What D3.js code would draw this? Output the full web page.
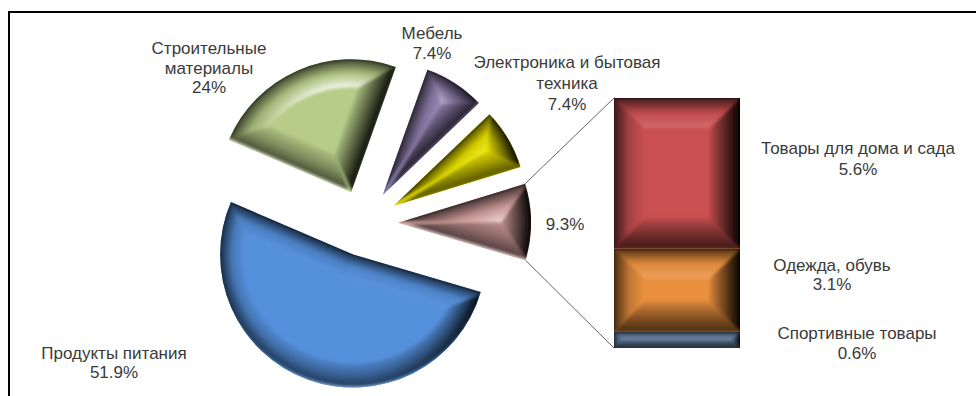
<!DOCTYPE html>
<html>
<head>
<meta charset="utf-8">
<title>Структура товарооборота</title>
<script src="https://cdn.jsdelivr.net/npm/d3@7"></script>
<style>
html,body{margin:0;padding:0;background:#fff;}
svg{display:block;}
text{font-family:"Liberation Sans",Arial,sans-serif;font-size:17px;fill:#3a3a3a;text-anchor:middle;}
</style>
</head>
<body>
<svg id="chart" width="976" height="396"></svg>
<script>
// Main pie
const pieNames = ["Продукты питания", "Строительные\nматериалы", "Мебель", "Электроника и бытовая\nтехника", ""];
const pieValues = [51.9, 24, 7.4, 7.4, 9.3];
const pieColors = ["#5590dc", "#b7cc88", "#9484b4", "#f0e800", "#cf9c9a"];
const pieGloss = [1.04, 1.85, 1.55, 1.25, 1.65];
const pieRim = [1.3, 1.85, 1.2, 0.6, 1.7];
const pieBevel = [24, 28, 28, 28, 30];

// Breakdown of the last slice
const stackNames = ["Товары для дома и сада", "Одежда,  обувь", "Спортивные товары"];
const stackValues = [5.6, 3.1, 0.6];
const stackColors = ["#c94f50", "#e98f3e", "#5c7494"];

// Label layout: centre x and first baseline
const pieLabelAnchors = [[114, 359], [209, 54], [432, 39], [567, 68], [565, 230]];
const pieLineGaps = [19, 19.5, 20, 21, 0];
const stackLabelAnchors = [[858, 154], [832, 271], [857, 339]];
const stackLineGaps = [21, 19, 20];

const cx = 364.5, cy = 223, R = 133, explode = 33.5;
const firstAngle = 106.4 * Math.PI / 180;
const stackX = [614, 740], stackY = [98, 348];

const svg = d3.select("#chart");
const defs = svg.append("defs");

const blur = defs.append("filter").attr("id", "soft")
  .attr("x", "-5%").attr("y", "-5%").attr("width", "110%").attr("height", "110%");
blur.append("feGaussianBlur").attr("stdDeviation", 1.6);

// Shading along a bevel, from rim (0) to the flat face (1), per facing direction
const stopAt = [0, 0.07, 0.5, 1];
function bevelStops(base, nx, ny, finish) {
  const profiles = {
    top:    [0.10, 0.42, 0.95, finish.gloss],
    bottom: [finish.rim, finish.under, finish.under + 0.25, 0.92],
    left:   [0.22, 0.38, 0.82, 1.0],
    right:  [0.03, 0.08, 0.46, 0.9]
  };
  const wT = Math.max(0, -ny) ** 2, wB = Math.max(0, ny) ** 2,
        wL = Math.max(0, -nx) ** 2, wR = Math.max(0, nx) ** 2;
  return stopAt.map((t, i) => ({
    t,
    color: tint(base, wT * profiles.top[i] + wB * profiles.bottom[i] +
                      wL * profiles.left[i] + wR * profiles.right[i])
  }));
}
function tint(base, m) {
  return m <= 1 ? d3.interpolateRgb("#000", base)(m)
                : d3.interpolateRgb(base, "#fff")(Math.min(1, m - 1));
}

let uid = 0;
function linearPaint(base, nx, ny, ex, ey, width, finish) {
  const id = "g" + (uid++);
  const g = defs.append("linearGradient").attr("id", id)
    .attr("gradientUnits", "userSpaceOnUse")
    .attr("x1", ex).attr("y1", ey)
    .attr("x2", ex - nx * width).attr("y2", ey - ny * width);
  bevelStops(base, nx, ny, finish).forEach(s =>
    g.append("stop").attr("offset", s.t).attr("stop-color", s.color));
  return "url(#" + id + ")";
}
function radialPaint(base, nx, ny, ax, ay, radius, width, finish) {
  const id = "g" + (uid++);
  const g = defs.append("radialGradient").attr("id", id)
    .attr("gradientUnits", "userSpaceOnUse")
    .attr("cx", ax).attr("cy", ay).attr("r", radius);
  bevelStops(base, nx, ny, finish).reverse().forEach(s =>
    g.append("stop").attr("offset", 1 - s.t * width / radius).attr("stop-color", s.color));
  return "url(#" + id + ")";
}
const polyline = d3.line();
const polar = (ax, ay, r, a) => [ax + r * Math.sin(a), ay - r * Math.cos(a)];

// Pie slices
const pie = d3.pie().sort(null).value(d => d)
  .startAngle(firstAngle).endAngle(firstAngle + 2 * Math.PI);
const arc = d3.arc().innerRadius(0).outerRadius(R);
const slices = pie(pieValues);

slices.forEach((s, i) => {
  const base = pieColors[i];
  const finish = { gloss: pieGloss[i], rim: pieRim[i], under: 0.42 };
  const mid = (s.startAngle + s.endAngle) / 2;
  const [ax, ay] = polar(cx, cy, explode, mid);
  const half = (s.endAngle - s.startAngle) / 2;
  const sinHalf = Math.sin(half);
  const w = Math.min(pieBevel[i], R * sinHalf / (1 + sinHalf));
  const delta = Math.asin(w / (R - w));
  const inner = polar(ax, ay, w / sinHalf, mid);

  const g = svg.append("g").attr("class", "slice");
  const clipId = "clip" + i;
  defs.append("clipPath").attr("id", clipId).append("path")
    .attr("transform", `translate(${ax},${ay})`).attr("d", arc(s));

  g.append("path").attr("transform", `translate(${ax},${ay})`)
    .attr("d", arc(s)).attr("fill", tint(base, 1));

  const bands = g.append("g").attr("clip-path", `url(#${clipId})`)
    .append("g").attr("filter", "url(#soft)");

  // Arc bevel, built from short pieces so the shading follows the normal
  const steps = Math.ceil((s.endAngle - s.startAngle) / (3 * Math.PI / 180));
  const angleAt = k => s.startAngle + (s.endAngle - s.startAngle) * k / steps;
  const innerAt = k => s.startAngle + delta +
    (s.endAngle - s.startAngle - 2 * delta) * k / steps;
  for (let k = 0; k < steps; k++) {
    const am = (angleAt(k) + angleAt(k + 1)) / 2;
    const pad = k < steps - 1 ? 0.008 : 0;
    bands.append("path")
      .attr("d", polyline([
        polar(ax, ay, R + 2, angleAt(k)),
        polar(ax, ay, R + 2, angleAt(k + 1) + pad),
        polar(ax, ay, R - w, innerAt(k + 1) + pad),
        polar(ax, ay, R - w, innerAt(k))
      ]) + "Z")
      .attr("fill", radialPaint(base, Math.sin(am), -Math.cos(am), ax, ay, R, w, finish));
  }

  // Bevels along the two straight edges
  [[s.startAngle, -1, delta], [s.endAngle, 1, -delta]].forEach(([edge, sign, d]) => {
    const nx = sign * Math.cos(edge), ny = sign * Math.sin(edge);
    const rim = polar(ax, ay, R + 2, edge);
    bands.append("path")
      .attr("d", polyline([
        [ax + nx * 2, ay + ny * 2], [rim[0] + nx * 2, rim[1] + ny * 2],
        rim, polar(ax, ay, R - w, edge + d), inner
      ]) + "Z")
      .attr("fill", linearPaint(base, nx, ny, ax, ay, w, finish));
  });
});

// Stacked column with the breakdown
const yStack = d3.scaleLinear()
  .domain([0, d3.sum(stackValues)]).range(stackY);
const cumulative = d3.cumsum([0].concat(stackValues));

// Lines joining the last slice to the column
const last = slices[slices.length - 1];
const lastMid = (last.startAngle + last.endAngle) / 2;
const [lx, ly] = polar(cx, cy, explode, lastMid);
svg.append("g").selectAll("line")
  .data([[last.startAngle, stackY[0]], [last.endAngle, stackY[1]]])
  .join("line")
  .attr("x1", d => polar(lx, ly, R, d[0])[0])
  .attr("y1", d => polar(lx, ly, R, d[0])[1])
  .attr("x2", stackX[0]).attr("y2", d => d[1])
  .attr("stroke", "#666").attr("stroke-width", 1);

stackValues.forEach((v, i) => {
  const base = stackColors[i];
  const finish = { gloss: 1.16, rim: 0.5, under: 0.34 };
  const y0 = yStack(cumulative[i]), y1 = yStack(cumulative[i + 1]);
  const [x0, x1] = stackX;
  const w = Math.min(30, (y1 - y0) / 2);
  const g = svg.append("g").attr("class", "segment");
  const clipId = "seg" + i;
  defs.append("clipPath").attr("id", clipId).append("rect")
    .attr("x", x0).attr("y", y0).attr("width", x1 - x0).attr("height", y1 - y0);
  g.append("rect").attr("x", x0).attr("y", y0)
    .attr("width", x1 - x0).attr("height", y1 - y0)
    .attr("fill", tint(base, 1));
  const bands = g.append("g").attr("clip-path", `url(#${clipId})`)
    .append("g").attr("filter", "url(#soft)");
  const o = 3;
  const sides = [
    { n: [0, -1], e: [x0, y0], pts: [[x0 - o, y0 - o], [x1 + o, y0 - o], [x1 - w, y0 + w], [x0 + w, y0 + w]] },
    { n: [0, 1],  e: [x0, y1], pts: [[x0 - o, y1 + o], [x1 + o, y1 + o], [x1 - w, y1 - w], [x0 + w, y1 - w]] },
    { n: [-1, 0], e: [x0, y0], pts: [[x0 - o, y0 - o], [x0 + w, y0 + w], [x0 + w, y1 - w], [x0 - o, y1 + o]] },
    { n: [1, 0],  e: [x1, y0], pts: [[x1 + o, y0 - o], [x1 - w, y0 + w], [x1 - w, y1 - w], [x1 + o, y1 + o]] }
  ];
  sides.forEach(b => bands.append("path")
    .attr("d", polyline(b.pts) + "Z")
    .attr("fill", linearPaint(base, b.n[0], b.n[1], b.e[0], b.e[1], w, finish)));
});

// Labels
function label(lines, x, y, gap) {
  const t = svg.append("text").attr("x", x).attr("y", y);
  lines.forEach((line, k) =>
    t.append("tspan").attr("x", x).attr("y", y + k * gap).text(line));
}
pieValues.forEach((v, i) => {
  const lines = pieNames[i] ? pieNames[i].split("\n") : [];
  lines.push(v + "%");
  label(lines, pieLabelAnchors[i][0], pieLabelAnchors[i][1], pieLineGaps[i]);
});
stackValues.forEach((v, i) => {
  label([stackNames[i], v + "%"], stackLabelAnchors[i][0], stackLabelAnchors[i][1], stackLineGaps[i]);
});

// Frame along the top and left
svg.append("path").attr("d", "M9,396V12H976")
  .attr("fill", "none").attr("stroke", "#000").attr("stroke-width", 2);
</script>
</body>
</html>
